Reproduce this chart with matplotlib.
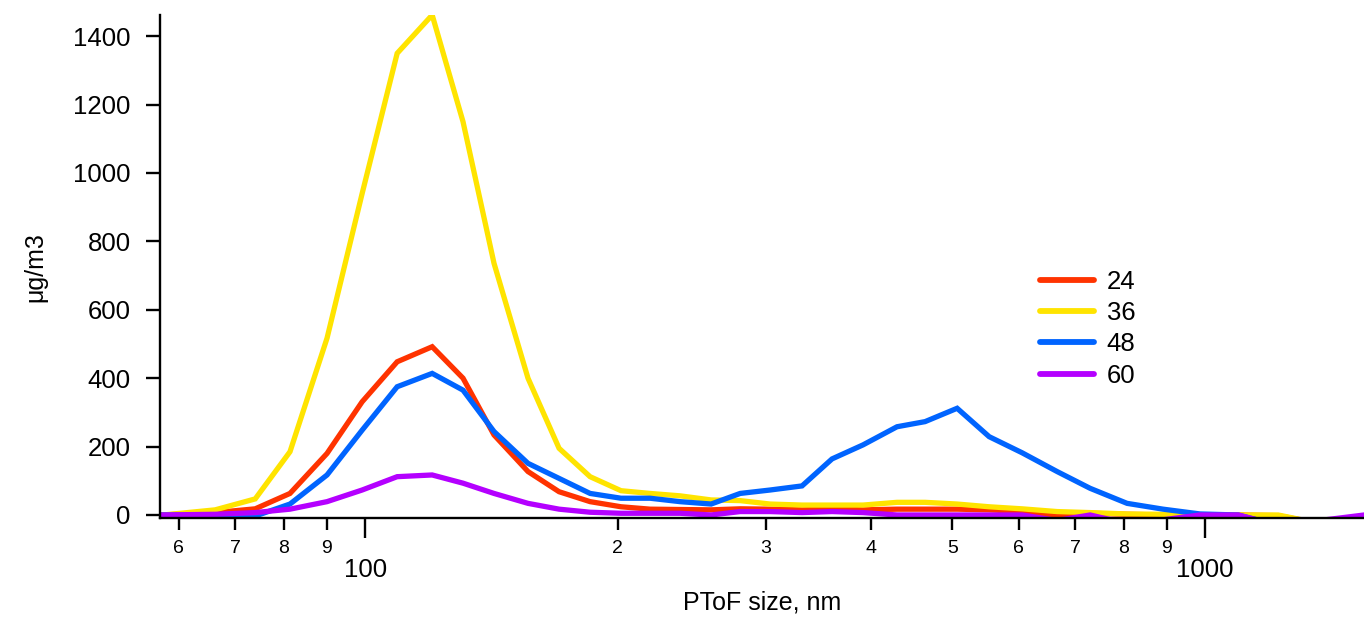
import matplotlib
matplotlib.use("Agg")
import matplotlib.pyplot as plt
from matplotlib.ticker import FixedLocator, FixedFormatter

plt.rcParams['font.family'] = ['Liberation Sans', 'DejaVu Sans']

# PToF size bins (nm)
size_nm = [57.5, 66.3, 74.0, 81.4, 90.1, 99.2, 109.2, 120.2, 130.8, 142.4,
           156.3, 170.2, 185.3, 201.7, 218.4, 237.1, 258.2, 279.6, 303.5, 331.3,
           359.7, 391.6, 429.8, 464.2, 506.8, 553.3, 605.5, 666.6, 729.7, 807.5,
           891.3, 986.3, 1094.8, 1221.8, 1370.9, 1546.6]

# mass distributions, ug/m3
s24 = [0, 7, 18, 63, 180, 331, 448, 492, 400, 234,
       127, 68, 39, 24, 17, 16, 15, 18, 17, 15,
       18, 15, 17, 17, 17, 15, 10, -4, 5, 2,
       0, 0, 0, -2, -25, -25]
s36 = [0, 15, 47, 185, 517, 940, 1350, 1462, 1150, 736,
       400, 195, 112, 71, 63, 56, 44, 42, 32, 29,
       29, 29, 37, 37, 32, 24, 18, 10, 7, 3,
       2, 0, 0, 0, -25, -25]
s48 = [0, 0, -3, 32, 117, 248, 375, 414, 365, 244,
       151, 107, 63, 49, 49, 39, 32, 63, 73, 85,
       164, 205, 258, 273, 312, 229, 182, 127, 78, 34,
       17, 3, 0, -30, -30, -30]
s60 = [0, 2, 7, 17, 39, 73, 112, 117, 93, 63,
       34, 17, 8, 5, 5, 5, 0, 10, 10, 7,
       10, 7, 0, 0, 0, 0, 0, -16, 0, -25,
       -14, 0, 0, -30, -16, 0]

labels = ['24', '36', '48', '60']
colors = ['#ff3300', '#ffe400', '#0064ff', '#b400ff']

minor_ticks = [60, 70, 80, 90, 200, 300, 400, 500, 600, 700, 800, 900]
minor_labels = ['6', '7', '8', '9', '2', '3', '4', '5', '6', '7', '8', '9']

fig = plt.figure(figsize=(13.64, 6.2), dpi=100)
ax = fig.add_axes([160 / 1364, 1 - 518.4 / 620, 1 - 160 / 1364, (518.4 - 15) / 620])

for ys, lab, c in zip([s24, s36, s48, s60], labels, colors):
    ax.plot(size_nm, ys, color=c, lw=3.8, label=lab, solid_joinstyle='miter')

ax.set_xscale('log')
ax.set_xlim(57.0, 1546)
ax.set_ylim(-10, 1462)

ax.spines['top'].set_visible(False)
ax.spines['right'].set_visible(False)
ax.spines['left'].set_linewidth(1.7)
ax.spines['bottom'].set_linewidth(1.7)

ax.set_yticks(range(0, 1401, 200))
ax.xaxis.set_major_locator(FixedLocator([100, 1000]))
ax.xaxis.set_major_formatter(FixedFormatter(['100', '1000']))
ax.xaxis.set_minor_locator(FixedLocator(minor_ticks))
ax.xaxis.set_minor_formatter(FixedFormatter(minor_labels))

ax.tick_params(axis='y', which='major', length=10, width=1.7, pad=11, labelsize=18.5)
ax.tick_params(axis='x', which='major', length=14.4, width=1.7, pad=14, labelsize=18.5)
ax.tick_params(axis='x', which='minor', length=8.6, width=1.7, pad=7, labelsize=14)

ax.set_xlabel('PToF size, nm', fontsize=18, labelpad=6)
ax.set_ylabel('μg/m3', fontsize=18, labelpad=19)

leg = ax.legend(loc='upper left', bbox_to_anchor=(1040 / 1364, 1 - 270 / 620),
                bbox_transform=fig.transFigure, frameon=False, fontsize=18.5,
                handlelength=2.1, handletextpad=0.5, labelspacing=0.28,
                borderpad=0, borderaxespad=0)
for line in leg.get_lines():
    line.set_linewidth(4.2)
    line.set_solid_capstyle('round')

fig.savefig('out.png', dpi=100)
